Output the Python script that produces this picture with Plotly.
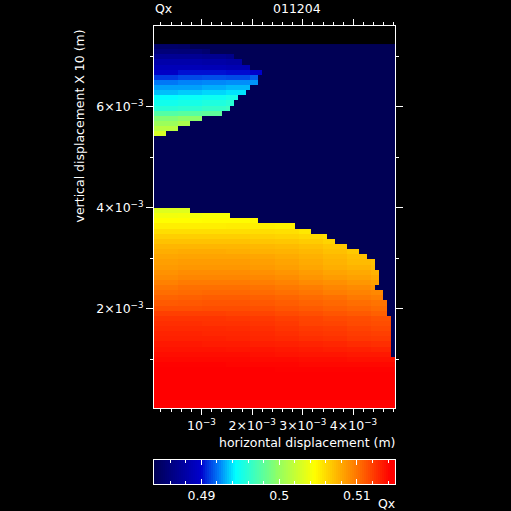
import numpy as np
import plotly.graph_objects as go

W = H = 511
Z_BG = 0.4839
Z_MAX = 0.5149
N_COLS = 60
N_ROWS = 71
BLOCK = 6

# filled columns per row, top row of the grid first
upper_edges = [9, 14, 20, 22, 24, 27, 26, 26, 24, 23, 21, 20, 19, 17, 12, 9, 6, 3]
upper_values = [
    [.4848, .4847],
    [.4857, .4856, .4852],
    [.4870, .4870, .4868, .4865],
    [.4882, .4882, .4880, .4878],
    [.4889, .4889, .4888, .4886],
    [.4896, .4902, .4902, .4901, .4898],
    [.4909, .4912, .4913, .4912, .4916],
    [.4921, .4923, .4924, .4925, .4926],
    [.4928, .4928, .4930, .4932],
    [.4933, .4935, .4937, .4939],
    [.4944, .4946, .4948, .4951],
    [.4950, .4952, .4955, .4958],
    [.4958, .4960, .4963, .4966],
    [.4975, .4977, .4979],
    [.4993, .4997],
    [.5003, .5010],
    [.5015],
    [.5028],
]
empty_rows = 14  # rows 18..31 hold only background

lower_edges = [9, 19, 26, 35, 39, 43, 45, 48, 51, 53, 55, 55, 56, 56, 56, 55, 57, 57, 58, 58, 58,
               59, 59, 59, 59, 59, 59, 59, 59, 60, 60, 60, 60, 60, 60, 60, 60, 60, 60]
lower_values = [
    [.5032, .5032],
    [.5040, .5041, .5043, .5043],
    [.5046, .5046, .5047, .5047, .5048],
    [.5052, .5052, .5052, .5053, .5052, .5051],
    [.5059, .5059, .5059, .5059, .5059, .5058, .5055],
    [.5065, .5065, .5065, .5065, .5064, .5063, .5061, .5059],
    [.5070, .5070, .5070, .5070, .5069, .5068, .5066, .5063],
    [.5075, .5075, .5075, .5075, .5074, .5073, .5071, .5068, .5065],
    [.5078, .5079, .5079, .5078, .5077, .5076, .5074, .5071, .5067],
    [.5081, .5082, .5082, .5082, .5081, .5079, .5077, .5074, .5071],
    [.5084, .5085, .5085, .5085, .5084, .5082, .5079, .5076, .5073, .5070],
    [.5086, .5087, .5087, .5087, .5086, .5084, .5081, .5078, .5076, .5072],
    [.5089, .5091, .5091, .5091, .5090, .5088, .5085, .5082, .5080, .5076],
    [.5092, .5094, .5094, .5094, .5093, .5091, .5088, .5085, .5083, .5080],
    [.5096, .5098, .5098, .5098, .5097, .5095, .5092, .5090, .5087, .5084],
    [.5100, .5102, .5102, .5102, .5101, .5099, .5097, .5094, .5092, .5089],
    [.5103, .5104, .5105, .5105, .5104, .5102, .5100, .5097, .5095, .5093],
    [.5107, .5108, .5109, .5109, .5108, .5106, .5104, .5102, .5099, .5097],
    [.5110, .5111, .5112, .5112, .5111, .5109, .5107, .5105, .5103, .5101],
    [.5114, .5114, .5115, .5115, .5114, .5112, .5110, .5108, .5106, .5104],
    [.5120, .5120, .5120, .5119, .5118, .5116, .5114, .5112, .5110, .5108],
    [.5124, .5124, .5124, .5123, .5122, .5120, .5118, .5116, .5115, .5113],
    [.5126, .5126, .5125, .5125, .5124, .5122, .5119, .5118, .5116, .5115],
    [.5128, .5128, .5128, .5127, .5126, .5124, .5122, .5121, .5119, .5117],
    [.5130, .5130, .5129, .5129, .5128, .5126, .5124, .5123, .5121, .5120],
    [.5131, .5131, .5131, .5130, .5129, .5128, .5126, .5125, .5123, .5122],
    [.5134, .5134, .5133, .5133, .5132, .5131, .5130, .5129, .5127, .5126],
    [.5136, .5136, .5136, .5135, .5135, .5134, .5133, .5132, .5131, .5130],
    [.5138, .5138, .5138, .5138, .5137, .5136, .5135, .5135, .5134, .5134],
    [.5140, .5140, .5140, .5140, .5139, .5139, .5138, .5138, .5137, .5137],
    [.5142, .5142, .5142, .5141, .5141, .5141, .5140, .5140, .5140, .5140],
    [.5143, .5143, .5143, .5143, .5143, .5142, .5142, .5142, .5142, .5142],
    [.5144, .5144, .5144, .5144, .5144, .5144, .5144, .5144, .5144, .5144],
    [.5145, .5145, .5145, .5145, .5145, .5145, .5145, .5145, .5145, .5145],
    [.5146, .5146, .5146, .5146, .5146, .5146, .5146, .5146, .5146, .5146],
    [.5147, .5147, .5147, .5147, .5147, .5147, .5147, .5147, .5147, .5147],
    [.5148, .5148, .5148, .5148, .5148, .5148, .5148, .5148, .5148, .5148],
    [.5149, .5149, .5149, .5149, .5149, .5149, .5149, .5149, .5149, .5149],
    [.5149, .5149, .5149, .5149, .5149, .5149, .5149, .5149, .5149, .5149],
]

x_tick_vals = [1e-3, 2e-3, 3e-3, 4e-3]
x_tick_text = ["10<sup>\u22123</sup>", "2\u00d710<sup>\u22123</sup>", "3\u00d710<sup>\u22123</sup>", "4\u00d710<sup>\u22123</sup>"]
y_tick_vals = [2e-3, 4e-3, 6e-3]
y_tick_text = ["2\u00d710<sup>\u22123</sup>", "4\u00d710<sup>\u22123</sup>", "6\u00d710<sup>\u22123</sup>"]
cb_tick_vals = [0.49, 0.50, 0.51]
cb_tick_text = ["0.49", "0.5", "0.51"]

X_RANGE = [0.062e-3, 4.82e-3]
Y_RANGE = [0.03e-3, 7.594e-3]
DX = (X_RANGE[1] - X_RANGE[0]) / N_COLS
DY = 0.1015e-3

colorscale = [
    [0.0, "rgb(0,0,85)"],
    [0.195, "rgb(0,0,205)"],
    [0.215, "rgb(0,40,220)"],
    [0.27, "rgb(0,128,250)"],
    [0.337, "rgb(0,255,255)"],
    [0.515, "rgb(145,255,100)"],
    [0.667, "rgb(255,255,0)"],
    [0.83, "rgb(255,128,0)"],
    [0.98, "rgb(255,0,0)"],
    [1.0, "rgb(255,0,0)"],
]


def build_row(values, edge):
    row = [Z_BG] * N_COLS
    for i in range(edge):
        row[i] = values[min(i // BLOCK, len(values) - 1)]
    return row


rows = [build_row(v, e) for v, e in zip(upper_values, upper_edges)]
rows += [[Z_BG] * N_COLS for _ in range(empty_rows)]
rows += [build_row(v, e) for v, e in zip(lower_values, lower_edges)]
z = rows[::-1]

FONT = dict(family="DejaVu Sans", color="white", size=12.5)


def px(x):
    return x / W


def py(y):
    return 1 - y / H


fig = go.Figure()
fig.add_trace(go.Heatmap(
    z=z, x0=X_RANGE[0] + DX / 2, dx=DX, y0=Y_RANGE[0] + DY / 2, dy=DY,
    zmin=Z_BG, zmax=Z_MAX, colorscale=colorscale, showscale=False,
    xaxis="x", yaxis="y",
))
cb_levels = np.linspace(Z_BG, Z_MAX, 122)
fig.add_trace(go.Heatmap(
    z=[cb_levels, cb_levels], x=cb_levels, y=[0, 1],
    zmin=Z_BG, zmax=Z_MAX, colorscale=colorscale, showscale=False,
    xaxis="x2", yaxis="y2",
))

axis_common = dict(showgrid=False, zeroline=False, showline=True, linecolor="white", linewidth=1,
                   mirror="ticks", ticks="outside", tickcolor="white", tickwidth=1, tickfont=FONT)

fig.update_layout(
    width=W, height=H, margin=dict(l=0, r=0, t=0, b=0),
    paper_bgcolor="black", plot_bgcolor="black", showlegend=False,
    xaxis=dict(domain=[px(154), px(395)], range=X_RANGE, tickmode="array",
               tickvals=x_tick_vals, ticktext=x_tick_text, ticklen=6,
               minor=dict(tickmode="array",
                          tickvals=[i * 0.2e-3 for i in range(1, 25) if i % 5],
                          ticklen=3, tickcolor="white", tickwidth=1, ticks="outside"),
               anchor="y", **axis_common),
    yaxis=dict(domain=[py(408), py(26)], range=Y_RANGE, tickmode="array",
               tickvals=y_tick_vals, ticktext=y_tick_text, ticklen=7,
               minor=dict(tickmode="array", tickvals=[1e-3, 3e-3, 5e-3, 7e-3],
                          ticklen=3, tickcolor="white", tickwidth=1, ticks="outside"),
               anchor="x", **axis_common),
    xaxis2=dict(domain=[px(154), px(395)], range=[Z_BG, Z_MAX], tickmode="array",
                tickvals=cb_tick_vals, ticktext=cb_tick_text, ticklen=5,
                minor=dict(tickmode="array",
                           tickvals=[0.484 + i * 0.002 for i in range(16) if i % 5 != 3],
                           ticklen=3, tickcolor="white", tickwidth=1, ticks="inside"),
                anchor="y2", showgrid=False, zeroline=False, showline=True, linecolor="white",
                linewidth=1, mirror="ticks", ticks="inside", tickcolor="white", tickwidth=1,
                tickfont=FONT),
    yaxis2=dict(domain=[py(484), py(460)], range=[0, 1], anchor="x2", showticklabels=False,
                ticks="", showgrid=False, zeroline=False, showline=True, linecolor="white",
                linewidth=1, mirror=True),
    annotations=[
        dict(text="Qx", x=px(153), y=py(9), xref="paper", yref="paper", xanchor="left",
             yanchor="middle", showarrow=False, font=FONT),
        dict(text="011204", x=px(297), y=py(9), xref="paper", yref="paper", xanchor="center",
             yanchor="middle", showarrow=False, font=FONT),
        dict(text="horizontal displacement (m)", x=px(397), y=py(442), xref="paper", yref="paper",
             xanchor="right", yanchor="middle", showarrow=False, font=FONT),
        dict(text="vertical displacement X 10 (m)", x=px(79), y=py(28), xref="paper", yref="paper",
             xanchor="center", yanchor="top", textangle=-90, showarrow=False, font=FONT),
        dict(text="Qx", x=px(397), y=py(503), xref="paper", yref="paper", xanchor="right",
             yanchor="middle", showarrow=False, font=FONT),
    ],
)

fig.write_html("out.html", config=dict(displayModeBar=False),
               post_script="document.body.style.margin='0';document.body.style.background='black';")
